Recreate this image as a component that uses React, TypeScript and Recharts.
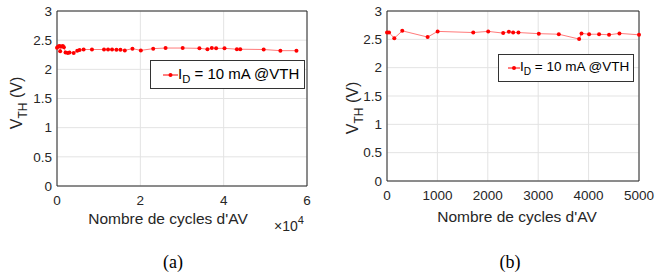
import React from 'react'
import { LineChart, Line, XAxis, YAxis, CartesianGrid, ReferenceLine, Legend } from 'recharts'

// (a) long run, cycles up to ~5.7e4
const cyclesA = [0, 280, 600, 760, 1000, 1400, 1650, 2050, 2600, 3000, 4000, 4860, 5420, 6390, 8390, 11280, 12250, 13210, 14260, 15220, 16270, 18110, 20120, 23090, 26060, 30160, 34180, 36100, 37150, 38190, 40200, 43170, 43980, 49600, 53610, 57470]
const vthA = [2.37, 2.39, 2.4, 2.31, 2.39, 2.4, 2.38, 2.29, 2.28, 2.29, 2.28, 2.32, 2.33, 2.34, 2.34, 2.34, 2.34, 2.34, 2.335, 2.335, 2.325, 2.355, 2.325, 2.355, 2.365, 2.365, 2.36, 2.345, 2.365, 2.36, 2.36, 2.345, 2.345, 2.34, 2.32, 2.32]

// (b) first 5000 cycles
const cyclesB = [0, 40, 145, 303, 806, 1005, 1711, 2008, 2305, 2418, 2503, 2608, 3012, 3409, 3812, 3859, 4010, 4208, 4406, 4612, 5000]
const vthB = [2.62, 2.62, 2.52, 2.65, 2.54, 2.64, 2.62, 2.64, 2.61, 2.635, 2.62, 2.62, 2.6, 2.59, 2.505, 2.605, 2.59, 2.59, 2.58, 2.605, 2.58]

const yTicks = [0, 0.5, 1, 1.5, 2, 2.5, 3]
const xTicksA = [0, 20000, 40000, 60000]
const xTicksB = [0, 1000, 2000, 3000, 4000, 5000]

const dataA = cyclesA.map((x, i) => ({ x, y: vthA[i] }))
const dataB = cyclesB.map((x, i) => ({ x, y: vthB[i] }))

const FONT = '"Liberation Sans", Arial, sans-serif'
const INK = '#262626'
const RED = '#ff0000'

const VthLabel = ({ lx, ly }: any) => (
  <text transform={`translate(${lx},${ly}) rotate(-90)`} textAnchor="middle" fontSize={16} fill={INK} fontFamily={FONT}>
    V<tspan dy={5} fontSize={12}>TH</tspan><tspan dy={-5}> (V)</tspan>
  </text>
)

const XLabel = ({ cx, by, tag, cap, exp }: any) => (
  <g fontFamily={FONT} fill={INK}>
    <text x={cx} y={by} textAnchor="middle" fontSize={15.5}>Nombre de cycles d'AV</text>
    {exp && (
      <text x={exp.x} y={exp.y} fontSize={14}>
        ×10<tspan dy={-7} fontSize={11}>4</tspan>
      </text>
    )}
    <text x={cap} y={268} textAnchor="middle" fontSize={18} fontFamily='"Liberation Serif", "Times New Roman", serif' fill="#000">{tag}</text>
  </g>
)

const LegendBox = ({ fs, lineW, pad }: any) => (
  <div style={{ border: '1px solid #333', background: '#fff', height: '100%', boxSizing: 'border-box', display: 'flex', alignItems: 'center', paddingLeft: pad, fontFamily: FONT, fontSize: fs, color: '#000' }}>
    <svg width={lineW} height={10} style={{ display: 'block' }}>
      <line x1={0} y1={5} x2={lineW} y2={5} stroke={RED} strokeWidth={1} />
      <circle cx={lineW / 2} cy={5} r={2} fill={RED} />
    </svg>
    <span style={{ whiteSpace: 'nowrap' }}>I<sub style={{ fontSize: fs * 0.75 }}>D</sub> = 10 mA @VTH</span>
  </div>
)

export default function App() {
  return (
    <div style={{ position: 'absolute', left: 0, top: 0, width: 656, height: 274, background: '#fff' }}>
      <div style={{ position: 'absolute', left: 0, top: 0 }}>
        <LineChart width={330} height={274} data={dataA} margin={{ top: 11, right: 23, bottom: 58, left: 0 }}>
          <CartesianGrid stroke="#e3e3e3" />
          <XAxis type="number" dataKey="x" domain={[0, 60000]} ticks={xTicksA} tickFormatter={(v: number) => String(v / 10000)}
            stroke={INK} tickLine={false} tickSize={4} tickMargin={5} height={30}
            tick={{ fontSize: 13.5, fill: INK, fontFamily: FONT }}
            label={<XLabel cx={168} by={224} tag="(a)" cap={173} exp={{ x: 274, y: 231 }} />} />
          <YAxis type="number" domain={[0, 3]} ticks={yTicks} width={57} stroke={INK} tickLine={false} tickSize={2} tickMargin={3}
            tick={{ fontSize: 13.5, fill: INK, fontFamily: FONT }}
            label={<VthLabel lx={22} ly={103} />} />
          <ReferenceLine y={3} stroke={INK} />
          <ReferenceLine x={60000} stroke={INK} />
          <Legend layout="horizontal" verticalAlign="middle" align="center"
            wrapperStyle={{ left: 150, top: 60, width: 155, height: 29 }}
            content={() => <LegendBox fs={15} lineW={15} pad={12} />} />
          <Line dataKey="y" stroke="#ff7a7a" strokeWidth={1} isAnimationActive={false}
            dot={{ r: 2, fill: RED, stroke: 'none' }} name="ID" />
        </LineChart>
      </div>
      <div style={{ position: 'absolute', left: 330, top: 0 }}>
        <LineChart width={326} height={274} data={dataB} margin={{ top: 11, right: 17, bottom: 63, left: 0 }}>
          <CartesianGrid stroke="#e3e3e3" />
          <XAxis type="number" dataKey="x" domain={[0, 5000]} ticks={xTicksB}
            stroke={INK} tickLine={false} tickSize={4} tickMargin={5} height={30}
            tick={{ fontSize: 13.5, fill: INK, fontFamily: FONT }}
            label={<XLabel cx={187} by={222} tag="(b)" cap={180} />} />
          <YAxis type="number" domain={[0, 3]} ticks={yTicks} width={57} stroke={INK} tickLine={false} tickSize={2} tickMargin={3}
            tick={{ fontSize: 13.5, fill: INK, fontFamily: FONT }}
            label={<VthLabel lx={28} ly={108} />} />
          <ReferenceLine y={3} stroke={INK} />
          <ReferenceLine x={5000} stroke={INK} />
          <Legend layout="horizontal" verticalAlign="middle" align="center"
            wrapperStyle={{ left: 168, top: 54, width: 136, height: 28 }}
            content={() => <LegendBox fs={13.5} lineW={12} pad={9} />} />
          <Line dataKey="y" stroke="#ff7a7a" strokeWidth={1} isAnimationActive={false}
            dot={{ r: 2, fill: RED, stroke: 'none' }} name="ID" />
        </LineChart>
      </div>
    </div>
  )
}
